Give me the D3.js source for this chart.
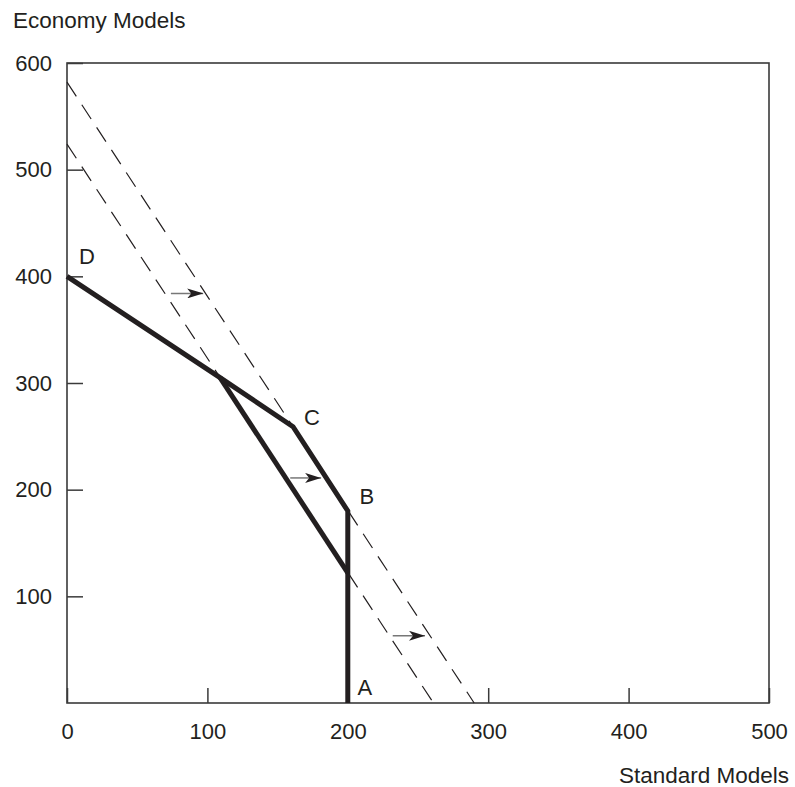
<!DOCTYPE html>
<html>
<head>
<meta charset="utf-8">
<script src="https://cdn.jsdelivr.net/npm/d3@7"></script>
<style>
  body { margin: 0; background: #fff; }
  text { font-family: "Liberation Sans", Arial, sans-serif; fill: #231f20; }
</style>
</head>
<body>
<svg id="chart" width="795" height="787"></svg>
<script>
// ---- data ----
const xTicks = [0, 100, 200, 300, 400, 500];
const yTicks = [100, 200, 300, 400, 500, 600];
const xTitle = "Standard Models";
const yTitle = "Economy Models";

// feasible-region boundary D -> E -> C -> B -> A
const frontier = [[0, 400], [109, 305], [161, 259], [200, 180], [200, 0]];
// inner constraint segment (lies on the inner iso-profit line)
const innerEdge = [[109, 305], [200, 122]];
// iso-profit (dashed) lines
const isoInner = [[0, 524], [261, 0]];
const isoOuter = [[0, 582], [290, 0]];
// arrows [x1, x2, y]
const arrows = [[74, 97, 384], [159, 181, 211], [232, 255, 63]];
// corner labels
const cornerLabels = [
  { name: "D", x: 0, y: 400 },
  { name: "C", x: 161, y: 259 },
  { name: "B", x: 200, y: 180 },
  { name: "A", x: 200, y: 0 }
];
const labelOffsets = { D: [20, -18], C: [19, -8], B: [19, -13], A: [17, -14] };

// ---- layout ----
const svg = d3.select("#chart");
const mLeft = 67, mRight = 769, mTop = 63, mBottom = 703;
const x = d3.scaleLinear().domain([0, 500]).range([mLeft, mRight]);
const y = d3.scaleLinear().domain([0, 600]).range([mBottom, mTop]);
const FS_TICK = 22, FS_TITLE = 22.5, FS_LABEL = 22;

// box
svg.append("rect")
  .attr("x", mLeft).attr("y", mTop)
  .attr("width", mRight - mLeft).attr("height", mBottom - mTop)
  .attr("fill", "none").attr("stroke", "#3a3a3a").attr("stroke-width", 1.6);

// axes
const gx = svg.append("g").attr("transform", `translate(0,${mBottom})`)
  .call(d3.axisBottom(x).tickValues(xTicks).tickSize(-15).tickPadding(20));
gx.select(".domain").remove();
gx.selectAll(".tick line").attr("stroke", "#3a3a3a").attr("stroke-width", 1.5);
gx.selectAll(".tick text").attr("font-size", FS_TICK).attr("fill", "#231f20")
  .attr("font-family", "Liberation Sans, Arial, sans-serif");

const gy = svg.append("g").attr("transform", `translate(${mLeft},0)`)
  .call(d3.axisLeft(y).tickValues(yTicks).tickSize(-16).tickPadding(15));
gy.select(".domain").remove();
gy.selectAll(".tick line").attr("stroke", "#3a3a3a").attr("stroke-width", 1.5);
gy.selectAll(".tick text").attr("font-size", FS_TICK).attr("fill", "#231f20")
  .attr("font-family", "Liberation Sans, Arial, sans-serif");

// titles
svg.append("text").attr("x", 13).attr("y", 28).attr("font-size", FS_TITLE).text(yTitle);
svg.append("text").attr("x", 789).attr("y", 783).attr("text-anchor", "end")
  .attr("font-size", FS_TITLE).text(xTitle);

const line = d3.line().x(d => x(d[0])).y(d => y(d[1]));

// dashed lines
[isoInner, isoOuter].forEach(seg => {
  svg.append("path").attr("d", line(seg))
    .attr("fill", "none").attr("stroke", "#231f20")
    .attr("stroke-width", 1.2).attr("stroke-dasharray", "17,10");
});

// thick lines
svg.append("path").attr("d", line(frontier))
  .attr("fill", "none").attr("stroke", "#231f20")
  .attr("stroke-width", 5).attr("stroke-linejoin", "miter");
svg.append("path").attr("d", line(innerEdge))
  .attr("fill", "none").attr("stroke", "#231f20")
  .attr("stroke-width", 5);

// arrows
const defs = svg.append("defs");
defs.append("marker").attr("id", "head")
  .attr("viewBox", "0 0 16 10").attr("refX", 16).attr("refY", 5)
  .attr("markerWidth", 16).attr("markerHeight", 10)
  .attr("markerUnits", "userSpaceOnUse").attr("orient", "auto")
  .append("path").attr("d", "M0,0 L16,5 L0,10 L4,5 Z").attr("fill", "#231f20");
arrows.forEach(a => {
  svg.append("line")
    .attr("x1", x(a[0])).attr("x2", x(a[1]))
    .attr("y1", y(a[2])).attr("y2", y(a[2]))
    .attr("stroke", "#777").attr("stroke-width", 1.5)
    .attr("marker-end", "url(#head)");
});

// corner labels
cornerLabels.forEach(d => {
  const o = labelOffsets[d.name];
  svg.append("text")
    .attr("x", x(d.x) + o[0]).attr("y", y(d.y) + o[1])
    .attr("text-anchor", "middle").attr("dominant-baseline", "middle")
    .attr("font-size", FS_LABEL).text(d.name);
});
</script>
</body>
</html>
